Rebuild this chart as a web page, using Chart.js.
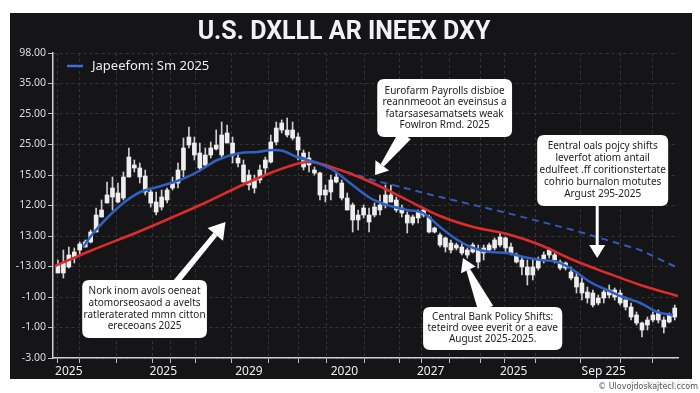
<!DOCTYPE html>
<html>
<head>
<meta charset="utf-8">
<script src="https://cdn.jsdelivr.net/npm/chart.js@4.4.1/dist/chart.umd.min.js"></script>
<style>
html, body { margin: 0; padding: 0; background: #fff; }
body { width: 700px; height: 393px; position: relative; overflow: hidden; }
#panel { position: absolute; left: 10px; top: 13px; width: 682px; height: 366px; background: #151518; }
#ai { position: absolute; right: 8px; top: 377px; font: 11px 'Liberation Sans', sans-serif; color: #e6e6e6; }
#mark { position: absolute; right: 2px; top: 382px; font: 8px 'DejaVu Sans', sans-serif; color: #555; }
</style>
</head>
<body>
<div id="panel"><canvas id="dxy" width="682" height="366"></canvas></div>
<div id="ai">AI generated</div>
<div id="mark">© Ulovojdoskajtecl.ccom</div>
<script>
// axis labels (as printed on the picture)
var yTickLabels = ['-3.00', '-1.00', '-1.00', '-13.00', '13.00', '12.00', '15.00', '25.00', '25.00', '35.00', '98.00'];
var yStep = 30.5;
var xTicks = [2, 6, 15.5, 19.3, 22, 28.5, 35, 42, 46, 52.5, 60, 65, 68.3, 75, 80, 83.5, 91.5, 100, 106];
var xLabelPos = [2, 19.3, 35, 52.5, 68.3, 83.5, 100];
var xLabelText = ['2025', '2025', '2029', '2020', '2027', '2025', 'Sep 225'];

// candles, one per session (index 0..113)
var highs = [98, 108, 111, 110, 116, 118, 128, 150, 158, 176, 181, 175, 186, 210, 198, 195, 188, 168, 166, 168,
  170, 181, 195, 220, 231, 221, 215, 210, 216, 228, 236, 233, 221, 205, 198, 188, 183, 193, 201, 223,
  236, 238, 240, 236, 225, 208, 206, 191, 186, 173, 183, 185, 178, 165, 155, 148, 153, 150, 155,
  163, 173, 173, 161, 153, 146, 143, 148, 150, 143, 131, 125, 121, 118, 115, 115, 110, 115, 113, 113,
  115, 120, 125, 121, 115, 105, 101, 98, 98, 101, 106, 110, 105, 98, 96, 91, 85, 80, 71, 68,
  63, 68, 73, 70, 68, 61, 55, 46, 36, 41, 46, 48, 41, 45, 53];
var lows = [85, 80, 90, 95, 103, 111, 115, 126, 141, 155, 148, 155, 158, 181, 186, 175, 163, 151, 143, 148,
  155, 168, 170, 181, 210, 198, 188, 191, 200, 208, 201, 215, 195, 191, 176, 168, 165, 175, 183, 195,
  213, 225, 221, 218, 198, 188, 186, 183, 158, 156, 158, 175, 158, 148, 126, 128, 140, 126, 141,
  143, 150, 156, 146, 141, 125, 133, 135, 141, 125, 125, 111, 106, 105, 108, 103, 100, 105, 90, 98,
  106, 108, 111, 106, 103, 95, 83, 73, 78, 88, 95, 100, 95, 88, 88, 78, 65, 58, 55, 51,
  53, 55, 60, 58, 53, 48, 38, 33, 21, 28, 36, 35, 25, 35, 38];
var opens = [85, 85, 91, 100, 108, 111, 116, 126, 141, 155, 161, 156, 160, 181, 190, 181, 166, 155, 146, 151,
  158, 170, 175, 188, 213, 203, 190, 193, 203, 209, 203, 215, 203, 195, 176, 173, 170, 178, 190, 196,
  216, 228, 223, 220, 208, 191, 193, 185, 163, 163, 166, 176, 160, 148, 138, 138, 143, 136, 143,
  148, 153, 156, 148, 145, 135, 135, 140, 143, 126, 126, 113, 111, 108, 110, 105, 103, 106, 96, 105,
  108, 110, 113, 110, 105, 96, 91, 83, 83, 90, 98, 103, 98, 90, 90, 80, 71, 65, 60, 53,
  55, 60, 63, 61, 55, 51, 41, 35, 28, 33, 38, 38, 31, 36, 41];
var closes = [93, 95, 103, 106, 114, 116, 126, 143, 148, 163, 170, 165, 181, 201, 193, 190, 182, 166, 156, 161,
  168, 175, 188, 210, 221, 215, 205, 203, 210, 213, 223, 225, 215, 200, 193, 183, 178, 188, 198, 216,
  230, 235, 228, 228, 221, 205, 200, 188, 185, 168, 178, 181, 175, 160, 153, 143, 150, 143, 151,
  153, 163, 163, 158, 150, 143, 141, 146, 148, 141, 130, 123, 120, 115, 113, 111, 108, 113, 108, 110,
  113, 118, 121, 120, 111, 103, 98, 91, 91, 98, 103, 108, 103, 96, 95, 86, 81, 75, 66, 65,
  60, 66, 68, 68, 65, 58, 51, 43, 35, 38, 43, 45, 38, 43, 50];

// overlay lines, read at [index, value]
var blueMA = [[4.6, 111], [6.5, 125], [9, 140], [12, 155], [15.1, 166], [18.2, 171], [22.4, 178], [25.5, 186],
  [29.2, 198], [33.4, 205], [36.5, 206], [39.4, 208], [41.3, 207], [43.8, 201], [47.5, 195], [50.4, 188],
  [53.5, 175], [57.2, 160], [60.3, 153], [64, 148], [66.9, 145], [70, 131], [73.2, 118], [76.1, 110],
  [79.2, 106], [82.3, 105], [85.3, 101], [88.4, 98], [91.5, 96], [94.4, 88], [97.5, 76], [100.6, 68],
  [103.5, 61], [106.7, 55], [109.8, 46], [112.7, 43]];
var redMA = [[-0.5, 92], [5.9, 107], [15.1, 127], [21.1, 141], [27.3, 156], [33.4, 172], [39.4, 186], [44.4, 195],
  [46.2, 196], [51.7, 188], [57.7, 175], [64, 158], [70, 142], [76.1, 131], [82.3, 124], [88.4, 113],
  [94.4, 98], [100.6, 85], [106.7, 73], [113.6, 62]];
var trendLine = [[44.4, 201], [51.7, 188], [57.7, 178], [70, 161], [82.3, 145], [94.4, 128], [106.7, 108], [113.6, 90]];

var legendText = 'Japeefom: Sm 2025';

var callouts = [
  { box: [58.5, 83.2, 279, 221], lh: 11.5,
    lines: ['Eurofarm Payrolls disbioe', 'reannmeoot an eveinsus a', 'fatarsasesamatsets weak', 'Fowlron Rmd. 2025'],
    arrow: { from: [63.6, 223], to: [58.1, 183], base: 14, shaft: 4, headLen: 12, headW: 17 } },
  { box: [87.8, 111.8, 223, 152], lh: 12,
    lines: ['Eentral oals pojcy shifts', 'leverfot atiom antail', 'edulfeet .ff coritionstertate', 'cohrio burnalon motutes', 'Argust 295-2025'],
    arrow: { from: [98.8, 154], to: [98.8, 100], base: 3, shaft: 3, headLen: 13, headW: 16 } },
  { box: [4.45, 27.3, 78, 20], lh: 11.7,
    lines: ['Nork inom avols oeneat', 'atomorseosaod a avelts', 'ratleraterated mmn citton', 'ereceoans 2025'],
    arrow: { from: [21.5, 75], to: [30.7, 136], base: 6, shaft: 5, headLen: 16, headW: 20 } },
  { box: [66.9, 92.4, 51, 8], lh: 11,
    lines: ['Central Bank Policy Shifts:', 'teteird ovee everit or a eave', 'August 2025-2025.'],
    arrow: { from: [78.4, 49], to: [74.2, 100], base: 16, shaft: 4, headLen: 13, headW: 16 } }
];

function toXY(arr) {
  return arr.map(function(p) { return { x: p[0], y: p[1] }; });
}

function roundRect(c, x, y, w, h, r) {
  c.beginPath();
  c.moveTo(x + r, y);
  c.lineTo(x + w - r, y);
  c.quadraticCurveTo(x + w, y, x + w, y + r);
  c.lineTo(x + w, y + h - r);
  c.quadraticCurveTo(x + w, y + h, x + w - r, y + h);
  c.lineTo(x + r, y + h);
  c.quadraticCurveTo(x, y + h, x, y + h - r);
  c.lineTo(x, y + r);
  c.quadraticCurveTo(x, y, x + r, y);
  c.closePath();
}

function drawArrow(c, x1, y1, x2, y2, a) {
  var dx = x2 - x1, dy = y2 - y1;
  var len = Math.sqrt(dx * dx + dy * dy);
  var ux = dx / len, uy = dy / len;
  var px = -uy, py = ux;
  var hx = x2 - ux * a.headLen, hy = y2 - uy * a.headLen;
  c.fillStyle = '#ffffff';
  c.beginPath();
  c.moveTo(x1 + px * a.base / 2, y1 + py * a.base / 2);
  c.lineTo(hx + px * a.shaft / 2, hy + py * a.shaft / 2);
  c.lineTo(hx - px * a.shaft / 2, hy - py * a.shaft / 2);
  c.lineTo(x1 - px * a.base / 2, y1 - py * a.base / 2);
  c.closePath();
  c.fill();
  c.beginPath();
  c.moveTo(x2, y2);
  c.lineTo(hx + px * a.headW / 2, hy + py * a.headW / 2);
  c.lineTo(hx - px * a.headW / 2, hy - py * a.headW / 2);
  c.closePath();
  c.fill();
}

var calloutPlugin = {
  id: 'callouts',
  afterDraw: function(chart) {
    var c = chart.ctx, xs = chart.scales.x, ys = chart.scales.y;
    c.save();
    // legend
    c.strokeStyle = '#3d6fd6';
    c.lineWidth = 2.5;
    c.beginPath();
    c.moveTo(xs.left + 14, ys.top + 13);
    c.lineTo(xs.left + 30, ys.top + 13);
    c.stroke();
    c.fillStyle = '#eeeeee';
    c.font = '13px "Noto Sans", sans-serif';
    c.textBaseline = 'middle';
    c.textAlign = 'left';
    c.fillText(legendText, xs.left + 39, ys.top + 13);

    callouts.forEach(function(co) {
      var a = co.arrow;
      drawArrow(c, xs.getPixelForValue(a.from[0]), ys.getPixelForValue(a.from[1]),
        xs.getPixelForValue(a.to[0]), ys.getPixelForValue(a.to[1]), a);
      var bx = xs.getPixelForValue(co.box[0]), bx2 = xs.getPixelForValue(co.box[1]);
      var by = ys.getPixelForValue(co.box[2]), by2 = ys.getPixelForValue(co.box[3]);
      c.fillStyle = '#ffffff';
      roundRect(c, bx, by, bx2 - bx, by2 - by, 7);
      c.fill();
      c.fillStyle = '#1c1c1c';
      c.textAlign = 'center';
      c.textBaseline = 'middle';
      var cx = (bx + bx2) / 2, cy = (by + by2) / 2;
      var y0 = cy - (co.lines.length - 1) * co.lh / 2;
      co.lines.forEach(function(t, k) {
        c.font = '10px "Noto Sans", sans-serif';
        c.fillText(t, cx, y0 + k * co.lh);
      });
    });
    c.restore();
  }
};

var ctx = document.getElementById('dxy').getContext('2d');
var dxyChart = new Chart(ctx, {
  type: 'bar',
  data: {
    datasets: [
      { type: 'line', label: 'blue', data: toXY(blueMA), borderColor: '#2f60c6', borderWidth: 2.5,
        pointRadius: 0, cubicInterpolationMode: 'monotone', order: 0 },
      { type: 'line', label: 'red', data: toXY(redMA), borderColor: '#e02b2b', borderWidth: 2.5,
        pointRadius: 0, cubicInterpolationMode: 'monotone', order: 1 },
      { type: 'line', label: 'trend', data: toXY(trendLine), borderColor: '#3358bb', borderWidth: 2,
        borderDash: [7, 5], pointRadius: 0, tension: 0, order: 1 },
      { label: 'body', data: opens.map(function(o, i) { return { x: i, y: [o, closes[i]] }; }),
        backgroundColor: '#eeeeee', barThickness: 4, grouped: false, order: 2 },
      { label: 'wick', data: highs.map(function(h, i) { return { x: i, y: [lows[i], h] }; }),
        backgroundColor: '#cfcfcf', barThickness: 1, grouped: false, order: 3 }
    ]
  },
  options: {
    responsive: false,
    animation: false,
    layout: { padding: { left: 0, right: 14, top: 0, bottom: 0 } },
    plugins: {
      legend: { display: false },
      tooltip: { enabled: false },
      title: {
        display: true,
        text: 'U.S. DXLLL AR INEEX DXY',
        color: '#f2f2f2',
        font: { family: 'Roboto', size: 25, weight: 'bold' },
        padding: { top: 5, bottom: 5 }
      }
    },
    scales: {
      x: {
        type: 'linear', min: -0.9, max: 113.6, offset: false,
        afterBuildTicks: function(s) { s.ticks = xTicks.map(function(v) { return { value: v }; }); },
        afterFit: function(s) { s.height = 21; },
        grid: { color: '#34343a', tickColor: '#bdbdbd', tickLength: 5 },
        border: { color: '#cfcfcf', width: 1.5, dash: [3, 3] },
        ticks: {
          color: '#eeeeee', font: { family: 'Noto Sans', size: 12 }, padding: 1,
          autoSkip: false, maxRotation: 0,
          callback: function(v) {
            var k = xLabelPos.indexOf(v);
            return k < 0 ? '' : xLabelText[k];
          }
        }
      },
      y: {
        min: 0, max: yStep * (yTickLabels.length - 1),
        afterBuildTicks: function(s) { s.ticks = yTickLabels.map(function(t, i) { return { value: i * yStep }; }); },
        afterFit: function(s) { s.width = 43; },
        grid: { color: '#34343a', tickColor: '#bdbdbd', tickLength: 5 },
        border: { color: '#cfcfcf', width: 1.5, dash: [3, 3] },
        ticks: {
          color: '#dddddd', font: { family: 'Noto Sans', size: 10.5 }, padding: 2,
          callback: function(v, i) { return yTickLabels[i]; }
        }
      }
    }
  },
  plugins: [calloutPlugin]
});
</script>
</body>
</html>
